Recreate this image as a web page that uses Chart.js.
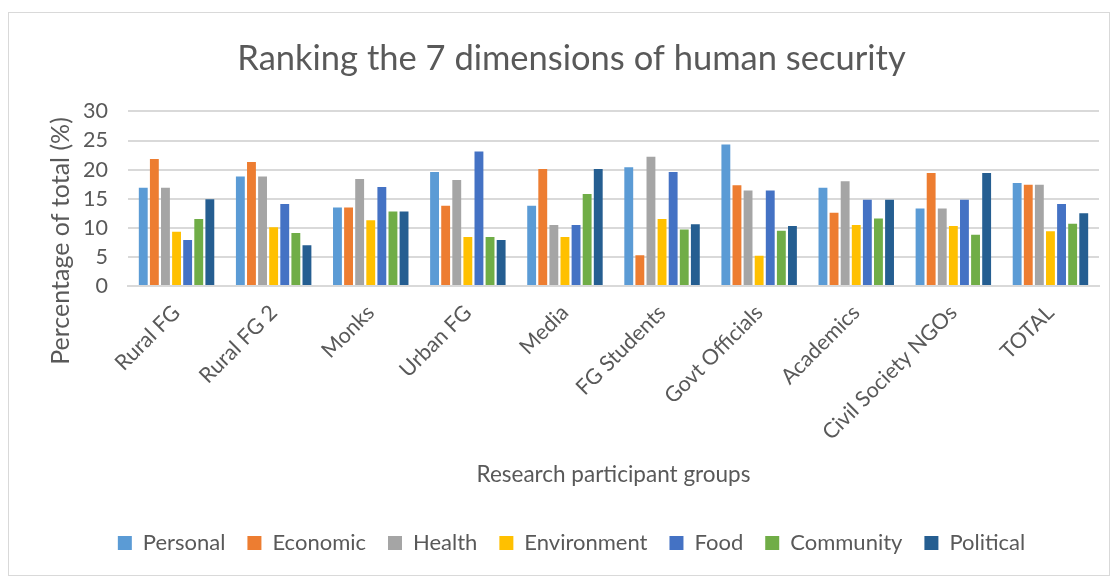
<!DOCTYPE html>
<html>
<head>
<meta charset="utf-8">
<script src="https://cdn.jsdelivr.net/npm/chart.js@4"></script>
<style>
  html, body { margin: 0; padding: 0; background: #fff; }
  #wrap { width: 1118px; height: 579px; position: relative; }
</style>
</head>
<body>
<div id="wrap"><canvas id="c" width="1118" height="579"></canvas></div>
<script>
const categories = ["Rural FG", "Rural FG 2", "Monks", "Urban FG", "Media", "FG Students", "Govt Officials", "Academics", "Civil Society NGOs", "TOTAL"];
const personal    = [16.9, 18.8, 13.5, 19.6, 13.8, 20.4, 24.3, 16.9, 13.3, 17.7];
const economic    = [21.8, 21.3, 13.5, 13.8, 20.1, 5.3, 17.3, 12.6, 19.4, 17.4];
const health      = [16.9, 18.8, 18.4, 18.2, 10.5, 22.2, 16.4, 18.0, 13.3, 17.4];
const environment = [9.3, 10.1, 11.3, 8.4, 8.4, 11.5, 5.2, 10.5, 10.3, 9.4];
const food        = [7.9, 14.1, 17.0, 23.1, 10.5, 19.6, 16.4, 14.8, 14.8, 14.1];
const community   = [11.5, 9.1, 12.8, 8.4, 15.8, 9.7, 9.5, 11.6, 8.8, 10.7];
const political   = [14.9, 7.0, 12.8, 7.9, 20.1, 10.6, 10.3, 14.8, 19.4, 12.5];
const seriesNames = ["Personal", "Economic", "Health", "Environment", "Food", "Community", "Political"];
const seriesColors = ["#5B9BD5", "#ED7D31", "#A5A5A5", "#FFC000", "#4472C4", "#70AD47", "#255E91"];
const yTicks = [0, 5, 10, 15, 20, 25, 30];
const yTitle = 'Percentage of total (%)';

const FONT = "Lato, 'DejaVu Sans', sans-serif";
const TXT = "#595959";

const borderPlugin = {
  id: 'outerBorder',
  beforeDraw(chart) {
    const ctx = chart.ctx;
    ctx.save();
    ctx.fillStyle = '#fff';
    ctx.fillRect(0, 0, chart.width, chart.height);
    ctx.strokeStyle = '#D9D9D9';
    ctx.lineWidth = 1;
    ctx.strokeRect(8.5, 12.5, 1101, 563);
    ctx.restore();
  },
  afterDraw(chart) {
    const ctx = chart.ctx;
    ctx.save();
    ctx.translate(61, 241);
    ctx.rotate(-Math.PI / 2);
    ctx.fillStyle = TXT;
    ctx.font = "25px " + FONT;
    ctx.textAlign = 'center';
    ctx.textBaseline = 'middle';
    ctx.fillText(yTitle, 0, 0);
    ctx.restore();
  }
};

const allSeries = [personal, economic, health, environment, food, community, political];

new Chart(document.getElementById('c'), {
  type: 'bar',
  data: {
    labels: categories,
    datasets: allSeries.map((d, i) => ({
      label: seriesNames[i],
      data: d,
      backgroundColor: seriesColors[i],
      borderWidth: 0,
      barPercentage: 0.8,
      categoryPercentage: 0.8
    }))
  },
  options: {
    responsive: false,
    animation: false,
    devicePixelRatio: 1,
    layout: { padding: { left: 32, right: 7, top: 12, bottom: 15 } },
    plugins: {
      title: {
        display: true,
        text: 'Ranking the 7 dimensions of human security',
        color: TXT,
        font: { family: FONT, size: 34.5, weight: 'normal' },
        padding: { top: 26, bottom: 32 }
      },
      legend: {
        position: 'bottom',
        labels: {
          color: TXT,
          font: { family: FONT, size: 22 },
          boxWidth: 14,
          boxHeight: 14,
          padding: 22
        }
      },
      tooltip: { enabled: false }
    },
    scales: {
      x: {
        grid: { display: false },
        border: { color: '#D9D9D9', width: 2 },
        ticks: {
          color: TXT,
          font: { family: FONT, size: 21.5 },
          minRotation: 45,
          maxRotation: 45,
          padding: 6
        },
        title: {
          display: true,
          text: 'Research participant groups',
          color: TXT,
          font: { family: FONT, size: 22.5 },
          padding: { top: 0, bottom: 22 }
        },
        afterFit(s) { s.height = 224; }
      },
      y: {
        min: 0,
        max: 30,
        afterBuildTicks(s) { s.ticks = yTicks.map(v => ({ value: v })); },
        grid: { color: '#D9D9D9', lineWidth: 2, drawTicks: false },
        border: { display: false },
        ticks: {
          color: TXT,
          font: { family: FONT, size: 21.5 },
          padding: 20
        },
        title: { display: false },
        afterFit(s) { s.width = 96; }
      },
      y2: {
        position: 'right',
        display: true,
        grid: { display: false },
        border: { display: false },
        ticks: { display: false },
        afterFit(s) { s.width = 12; }
      }
    }
  },
  plugins: [borderPlugin]
});
</script>
</body>
</html>
